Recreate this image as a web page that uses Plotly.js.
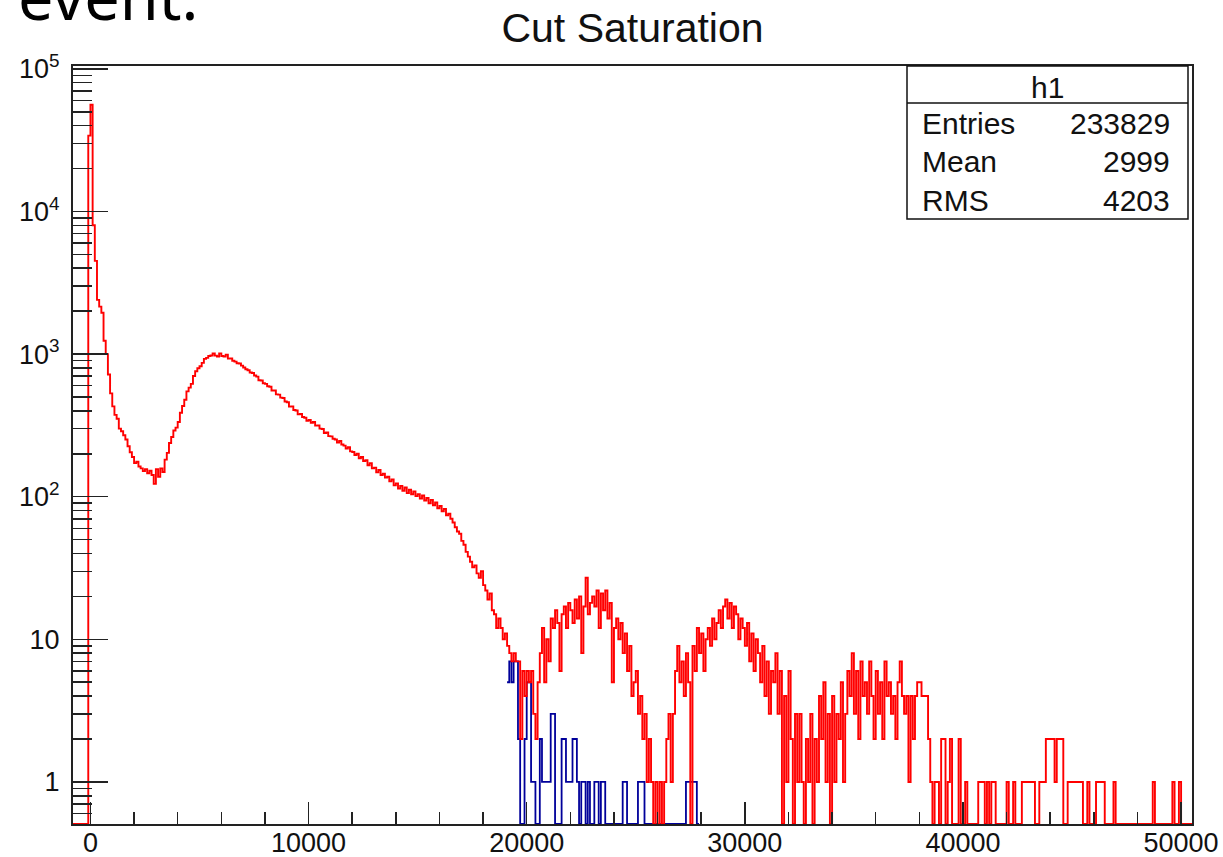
<!DOCTYPE html>
<html><head><meta charset="utf-8">
<script src="https://cdn.plot.ly/plotly-3.0.1.min.js"></script>
<style>html,body{margin:0;padding:0;background:#fff;overflow:hidden}#chart{width:1223px;height:857px}</style>
</head><body><div id="chart"></div>
<script>
// ---------------- data ----------------
const binWidth = 100;
const redFirstBinLow = -800;
const redNeg = [0, 0, 0, 0, 0, 0, 0, 34000];
const red0to5k = [56000, 8000, 4500, 2400, 2150, 1950, 1240, 1000, 720, 530,
  430, 375, 352, 300, 288, 270, 252, 226, 205, 190,
  172, 176, 163, 158, 151, 156, 146, 152, 142, 123,
  156, 138, 158, 149, 182, 203, 238, 262, 291, 305,
  334, 388, 432, 478, 548, 582, 618, 702, 758, 796];
const red5kto10k = [822, 868, 925, 940, 970, 978, 1010, 975, 962, 1012,
  970, 960, 992, 930, 932, 898, 885, 862, 858, 830,
  806, 782, 770, 742, 736, 708, 695, 655, 652, 625,
  618, 595, 590, 555, 556, 522, 520, 495, 492, 465,
  460, 428, 430, 405, 402, 378, 380, 362, 358, 340];
const red10kto15k = [345, 330, 334, 315, 316, 300, 298, 280, 282, 266,
  265, 255, 252, 240, 246, 232, 228, 218, 222, 208,
  206, 196, 200, 186, 190, 178, 180, 166, 172, 158,
  160, 148, 154, 142, 145, 136, 138, 128, 132, 120,
  124, 114, 119, 110, 116, 106, 112, 104, 109, 101];
const red15kto20k = [104, 97, 102, 94, 98, 90, 95, 87, 91, 83,
  86, 79, 82, 74, 76, 70, 66, 61, 57, 55,
  49, 46, 41, 38, 35, 32, 33, 29, 27, 30,
  24, 22, 19, 21, 16, 15, 12, 14, 12, 10,
  11, 9, 8, 7, 8, 7, 7, 2, 6, 4];
const red20kto25k = [6, 5, 6, 3, 2, 5, 8, 12, 5, 10,
  7, 14, 12, 16, 13, 6, 15, 17, 12, 18,
  16, 13, 19, 14, 20, 8, 17, 27, 15, 18,
  20, 17, 22, 12, 21, 16, 22, 14, 18, 5,
  12, 14, 10, 13, 8, 11, 6, 9, 4, 5];
const red25kto30k = [6, 3, 4, 2, 3, 1, 2, 1, 0, 1,
  0, 1, 0, 1, 2, 3, 1, 3, 6, 9,
  5, 7, 4, 8, 5, 0, 9, 6, 12, 8,
  11, 6, 10, 12, 9, 14, 10, 13, 16, 12,
  17, 19, 14, 18, 12, 17, 15, 10, 14, 12];
const red30kto35k = [9, 13, 7, 11, 6, 10, 8, 5, 9, 4,
  7, 3, 6, 5, 8, 3, 6, 0, 4, 1,
  6, 2, 0, 3, 1, 3, 1, 0, 2, 1,
  3, 0, 2, 1, 4, 2, 5, 1, 3, 0,
  4, 1, 3, 2, 5, 1, 3, 6, 4, 8];
const red35kto40k = [3, 6, 2, 7, 4, 5, 3, 7, 4, 2,
  6, 3, 5, 2, 7, 4, 5, 3, 4, 2,
  5, 7, 4, 3, 4, 1, 4, 2, 4, 5,
  5, 4, 4, 4, 2, 1, 0, 1, 1, 0,
  2, 2, 0, 1, 2, 0, 0, 0, 2, 0];
const red40kto45k = [0, 1, 0, 0, 0, 0, 0, 1, 1, 1,
  0, 1, 0, 1, 1, 0, 0, 0, 0, 0,
  1, 0, 0, 1, 0, 0, 0, 1, 1, 1,
  1, 1, 1, 0, 0, 1, 1, 1, 2, 2,
  2, 2, 1, 2, 2, 2, 0, 0, 1, 1];
const red45kto50k = [1, 1, 1, 1, 1, 0, 0, 1, 0, 0,
  0, 1, 1, 1, 1, 0, 0, 0, 0, 1,
  0, 0, 0, 0, 0, 0, 0, 0, 0, 0,
  0, 0, 0, 0, 0, 0, 0, 1, 0, 0,
  0, 0, 0, 0, 0, 0, 1, 0, 0, 1];
const red50kto505 = [0, 0, 0, 0, 0];

const blueFirstBinLow = 19100;
const blue19to24k = [5, 7, 5, 7, 7, 2, 0, 0, 2,
  5, 5, 1, 1, 0, 0, 2, 1, 1, 1,
  1, 3, 3, 0, 0, 0, 2, 2, 1, 1,
  1, 2, 2, 1, 0, 1, 1, 0, 1, 0,
  0, 1, 1, 0, 1, 1, 0, 0, 0, 0];
const blue24to28k = [0, 0, 0, 0, 1, 1, 0, 0, 0, 0,
  0, 1, 1, 1, 0, 0, 0, 0, 0, 0,
  0, 0, 0, 0, 0, 0, 0, 0, 0, 0,
  0, 0, 0, 1, 1, 1, 1, 1, 0];

const chartTitle = 'Cut Saturation';
const slideText = 'event.';
const statsTitle = 'h1';
const statsNames = ['Entries', 'Mean', 'RMS'];
const statsValues = ['233829', '2999', '4203'];
const xTickVals = [0, 10000, 20000, 30000, 40000, 50000];
const xTickText = ['0', '10000', '20000', '30000', '40000', '50000'];
const yTickVals = [1, 10, 100, 1000, 10000, 100000];
const yTickText = ['1', '10', '10<sup>2</sup>', '10<sup>3</sup>', '10<sup>4</sup>', '10<sup>5</sup>'];

// ---------------- drawing ----------------
const redCounts = [].concat(redNeg, red0to5k, red5kto10k, red10kto15k, red15kto20k, red20kto25k,
  red25kto30k, red30kto35k, red35kto40k, red40kto45k, red45kto50k, red50kto505);
const blueCounts = [].concat(blue19to24k, blue24to28k);

const Y_LOG_MIN = -0.295, Y_LOG_MAX = 5.02;
const yFloor = Math.pow(10, Y_LOG_MIN);
const X_MIN = -800, X_MAX = 50500;

function stepTrace(low, counts, color, width) {
  const x = [], y = [];
  counts.forEach((c, i) => { x.push(low + i * binWidth); y.push(c > 0 ? c : yFloor); });
  const last = counts[counts.length - 1];
  x.push(low + counts.length * binWidth); y.push(last > 0 ? last : yFloor);
  return {type: 'scatter', mode: 'lines', x: x, y: y,
    line: {shape: 'hv', color: color, width: width}, hoverinfo: 'skip', showlegend: false};
}

const minorY = [];
for (let d = -1; d <= 4; d++) for (let m = 2; m <= 9; m++) {
  const v = m * Math.pow(10, d);
  if (v > yFloor && v < 1e5) minorY.push(v);
}

const W = 1223, H = 857;
const PL = 73, PR = 1192, PT = 66, PB = 824;
const px2x = p => (p - PL) / (PR - PL);
const px2y = p => (PB - p) / (PB - PT);

const font = 'Liberation Sans, Arial, Helvetica, sans-serif';
const ink = '#111';

const statsFont = {family: font, size: 30, color: ink};
const annotations = [
  {text: statsTitle, x: px2x(1047), y: px2y(87), xanchor: 'center', yanchor: 'middle'},
];
const rowY = [123, 161, 200];
statsNames.forEach((n, i) => {
  annotations.push({text: n, x: px2x(920), y: px2y(rowY[i]), xanchor: 'left', yanchor: 'middle'});
  annotations.push({text: statsValues[i], x: px2x(1172), y: px2y(rowY[i]), xanchor: 'right', yanchor: 'middle'});
});
annotations.forEach(a => { a.xref = 'paper'; a.yref = 'paper'; a.showarrow = false; a.font = statsFont; });
annotations.push({text: slideText, xref: 'paper', yref: 'paper', x: px2x(16), y: px2y(40),
  xanchor: 'left', yanchor: 'bottom', showarrow: false,
  font: {family: 'Noto Sans, Open Sans, sans-serif', size: 63, color: '#000'}});

const shapes = [
  {type: 'rect', xref: 'paper', yref: 'paper', x0: px2x(907), x1: px2x(1188), y0: px2y(219), y1: px2y(66),
    line: {color: ink, width: 1.5}, fillcolor: '#fff', layer: 'above'},
  {type: 'line', xref: 'paper', yref: 'paper', x0: px2x(907), x1: px2x(1188), y0: px2y(103), y1: px2y(103),
    line: {color: ink, width: 1.5}, layer: 'above'}
];

const layout = {
  width: W, height: H,
  margin: {l: PL, r: W - PR, t: PT, b: H - PB, pad: 0},
  paper_bgcolor: '#fff', plot_bgcolor: '#fff',
  title: {text: chartTitle, font: {family: font, size: 41, color: ink},
    x: 0.5, xref: 'paper', xanchor: 'center', y: 1 - 28 / H, yref: 'container', yanchor: 'middle'},
  xaxis: {type: 'linear', range: [X_MIN, X_MAX], showgrid: false, zeroline: false,
    showline: true, mirror: true, linecolor: '#222', linewidth: 2,
    tickmode: 'array', tickvals: xTickVals, ticktext: xTickText,
    ticks: 'inside', ticklen: 22, tickwidth: 1.5, tickcolor: '#222', ticklabelstandoff: -6,
    tickfont: {family: font, size: 27, color: ink},
    minor: {tickmode: 'linear', tick0: 0, dtick: 2000, ticks: 'inside', ticklen: 12, tickwidth: 1.5, tickcolor: '#222', showgrid: false}},
  yaxis: {type: 'log', range: [Y_LOG_MIN, Y_LOG_MAX], showgrid: false, zeroline: false,
    showline: true, mirror: true, linecolor: '#222', linewidth: 2,
    tickmode: 'array', tickvals: yTickVals, ticktext: yTickText,
    ticks: 'inside', ticklen: 35, tickwidth: 1.5, tickcolor: '#222', ticklabelstandoff: 6,
    tickfont: {family: font, size: 27, color: ink},
    minor: {tickmode: 'array', tickvals: minorY, ticks: 'inside', ticklen: 19, tickwidth: 1.5, tickcolor: '#222', showgrid: false}},
  annotations: annotations,
  shapes: shapes,
  showlegend: false
};

const traces = [
  stepTrace(blueFirstBinLow, blueCounts, '#00009a', 1.8),
  stepTrace(redFirstBinLow, redCounts, '#ff0000', 1.9)
];

Plotly.newPlot('chart', traces, layout, {displayModeBar: false, staticPlot: true});
</script></body></html>
